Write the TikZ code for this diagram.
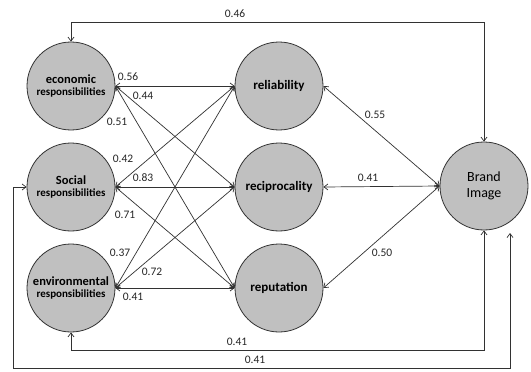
\documentclass[tikz,border=0pt]{standalone}
\usepackage{fontspec}
\setmainfont{Carlito}
\usetikzlibrary{arrows.meta}
\definecolor{circfill}{RGB}{192,192,192}
\definecolor{linec}{RGB}{50,50,50}
\newcommand{\respsize}{\fontsize{11}{12}\selectfont}
\begin{document}
\begin{tikzpicture}[x=1pt,y=-1pt,
  latent/.style={circle,draw=linec,fill=circfill,line width=0.8pt,minimum size=88pt,inner sep=0pt,align=center,font=\bfseries\fontsize{12.5}{14}\selectfont},
  conn/.style={draw=linec,line width=0.7pt,{Straight Barb[length=4pt,width=6pt]}-{Straight Barb[length=4pt,width=6pt]}},
  coef/.style={font=\fontsize{11.5}{12}\selectfont,inner sep=0pt,text=black!85}]
\useasboundingbox (0,0) rectangle (531,372);
\fill[white] (0,0) rectangle (531,372);
\node[latent] (eco) at (71,86) {economic\\[-2pt]{\respsize responsibilities}};
\node[latent] (soc) at (71,187) {Social\\[-2pt]{\respsize responsibilities}};
\node[latent] (env) at (71,288) {environmental\\[-2pt]{\respsize responsibilities}};
\node[latent,font=\bfseries\fontsize{13}{14}\selectfont] (rel) at (279,86) {reliability};
\node[latent,font=\bfseries\fontsize{13}{14}\selectfont] (rec) at (279,187) {reciprocality};
\node[latent,font=\bfseries\fontsize{13}{14}\selectfont] (rep) at (279,288) {reputation};
\node[latent,font=\fontsize{14}{16}\selectfont] (bra) at (484,186) {Brand\\Image};
\coordinate (b2end) at (510,233);
% cross paths
\foreach \a in {eco,soc,env}{
  \foreach \b in {rel,rec,rep}{
    \path[conn] (\a.east) -- (\b.west);
  }
}
\path[conn] (rel.east) -- (bra.west);
\path[conn] (rec.east) -- (bra.west);
\path[conn] (rep.east) -- (bra.west);
% feedback paths
\path[conn] (eco.north) -- (eco.north |- 0,22) -| (bra.north);
\path[conn] (env.south) -- (env.south |- 0,350) -| (bra.south);
\path[conn] (soc.west) -| (13,368) -| (b2end);
% coefficients
\node[coef] (c46) at (235,14) {0.46};
\node[coef] (c56) at (128,77) {0.56};
\node[coef] (c44) at (143,96) {0.44};
\node[coef] (c51) at (117,122) {0.51};
\node[coef] (c42) at (123,159) {0.42};
\node[coef] (c83) at (143,178) {0.83};
\node[coef] (c71) at (125,215) {0.71};
\node[coef] (c37) at (120,253) {0.37};
\node[coef] (c72) at (152,272) {0.72};
\node[coef] (c41a) at (133,297) {0.41};
\node[coef] (c55) at (375,115) {0.55};
\node[coef] (c41b) at (368,178) {0.41};
\node[coef] (c50) at (382,253) {0.50};
\node[coef] (c41c) at (237,342) {0.41};
\node[coef] (c41d) at (255,360) {0.41};
\end{tikzpicture}
\end{document}
